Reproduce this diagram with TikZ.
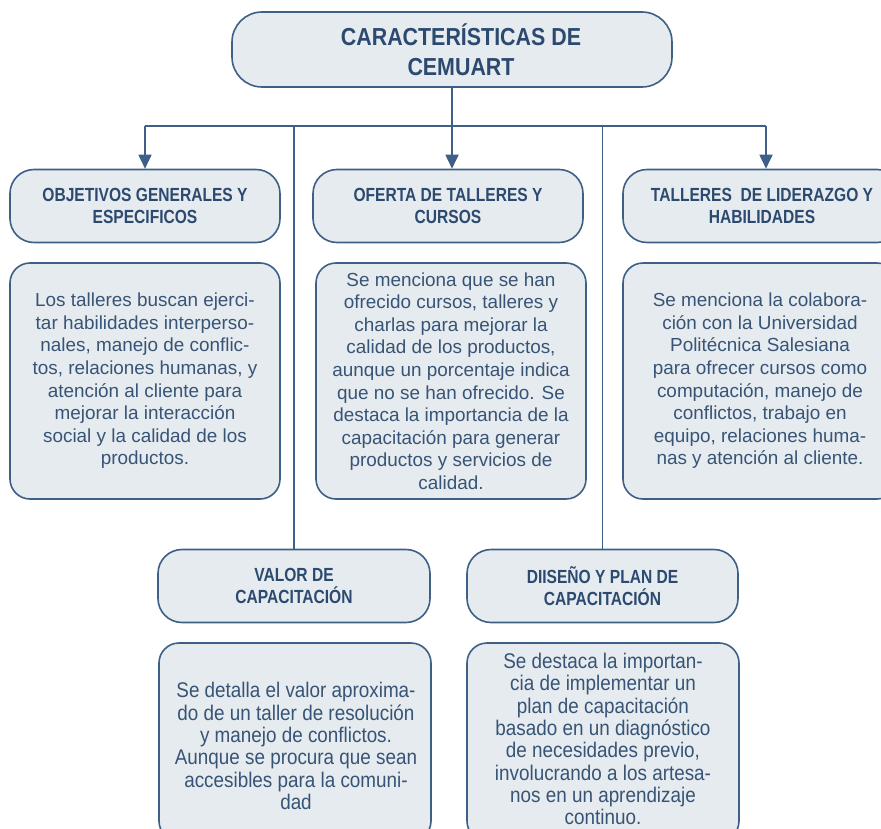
\documentclass[tikz,border=0pt]{standalone}
\usepackage{fontspec}
\setmainfont{Liberation Sans}
\newfontfamily\titlefont[FakeStretch=0.87]{Liberation Sans}
\newfontfamily\headfont[FakeStretch=0.82]{Liberation Sans}
\newfontfamily\narrowbody[FakeStretch=0.89]{Liberation Sans}
\usetikzlibrary{arrows.meta}
\definecolor{boxfill}{HTML}{E6EBEF}
\definecolor{boxdraw}{HTML}{3E5F86}
\definecolor{headtxt}{HTML}{2C4A70}
\definecolor{bodytxt}{HTML}{375476}
\definecolor{linecol}{HTML}{3E5F86}
\tikzset{
  basebox/.style={draw=boxdraw, fill=boxfill, line width=1.6pt, inner sep=0pt, align=center},
  titlebox/.style={basebox, rounded corners=30pt, minimum width=440pt, minimum height=75pt,
     text=headtxt, font=\titlefont\bfseries\fontsize{24.6}{30}\selectfont},
  headbox/.style={basebox, rounded corners=24pt, minimum height=73pt,
     text=headtxt, font=\headfont\bfseries\fontsize{19}{21.5}\selectfont},
  bodybox/.style={basebox, rounded corners=20pt,
     text=bodytxt, font=\fontsize{18.9}{22.6}\selectfont},
  lowbox/.style={basebox, rounded corners=20pt},
  lowtext/.style={inner sep=0pt, align=center,
     text=bodytxt, font=\narrowbody\fontsize{21.2}{22.3}\selectfont},
  conn/.style={draw=linecol, line width=1.8pt},
  arr/.style={conn, -{Triangle[length=14pt, width=13pt]}},
}
\begin{document}
\begin{tikzpicture}[x=1pt, y=-1pt]
\useasboundingbox (0,0) rectangle (881,829);

\node[titlebox] (top) at (452,49.5) {\hspace*{18pt}CARACTERÍSTICAS DE\\\hspace*{18pt}CEMUART};

\node[headbox, minimum width=270pt] (h1) at (145,206) {OBJETIVOS GENERALES Y\\ESPECIFICOS};
\node[headbox, minimum width=270pt] (h2) at (448,206) {OFERTA DE TALLERES Y\\CURSOS};
\node[headbox, minimum width=278pt] (h3) at (762,206) {TALLERES\ \ DE LIDERAZGO Y\\HABILIDADES};

\node[bodybox, minimum width=270pt, minimum height=236pt] (c1) at (145,381)
 {Los talleres buscan ejerci-\\tar habilidades interperso-\\nales, manejo de conflic-\\tos, relaciones humanas, y\\atención al cliente para\\mejorar la interacción\\social y la calidad de los\\productos.};
\node[bodybox, minimum width=270pt, minimum height=236pt] (c2) at (451,381)
 {Se menciona que se han\\ofrecido cursos, talleres y\\charlas para mejorar la\\calidad de los productos,\\aunque un porcentaje indica\\que no se han ofrecido. Se\\destaca la importancia de la\\capacitación para generar\\productos y servicios de\\calidad.};
\node[bodybox, minimum width=274pt, minimum height=236pt] (c3) at (760,381)
 {Se menciona la colabora-\\ción con la Universidad\\Politécnica Salesiana\\para ofrecer cursos como\\computación, manejo de\\conflictos, trabajo en\\equipo, relaciones huma-\\nas y atención al cliente.};

\node[headbox, minimum width=272pt] (h4) at (294,586) {VALOR DE\\CAPACITACIÓN};
\node[headbox, minimum width=271pt] (h5) at (602.5,586) {DIISEÑO Y PLAN DE\\CAPACITACIÓN};

\node[lowbox, minimum width=272pt, minimum height=198pt] (c4) at (295,742) {};
\node[lowtext] (t4) at (296,746)
 {Se detalla el valor aproxima-\\do de un taller de resolución\\y manejo de conflictos.\\Aunque se procura que sean\\accesibles para la comuni-\\dad};
\node[lowbox, minimum width=272pt, minimum height=198pt] (c5) at (603,742) {};
\node[lowtext] (t5) at (603,739)
 {Se destaca la importan-\\cia de implementar un\\plan de capacitación\\basado en un diagnóstico\\de necesidades previo,\\involucrando a los artesa-\\nos en un aprendizaje\\continuo.};

\coordinate (bus) at (top.south |- 0,126);
\coordinate (busL) at (h1.north |- bus);
\coordinate (busR) at (766,126);
\draw[conn] (top.south) -- (bus);
\draw[conn] (busL) -- (busR);
\draw[arr] (busL) -- (h1.north);
\draw[arr] (bus) -- (bus |- h2.north);
\draw[arr] (busR) -- (busR |- h3.north);
\draw[conn] (h4.north |- bus) -- (h4.north);
\draw[conn] (h5.north |- bus) -- (h5.north);
\end{tikzpicture}
\end{document}
